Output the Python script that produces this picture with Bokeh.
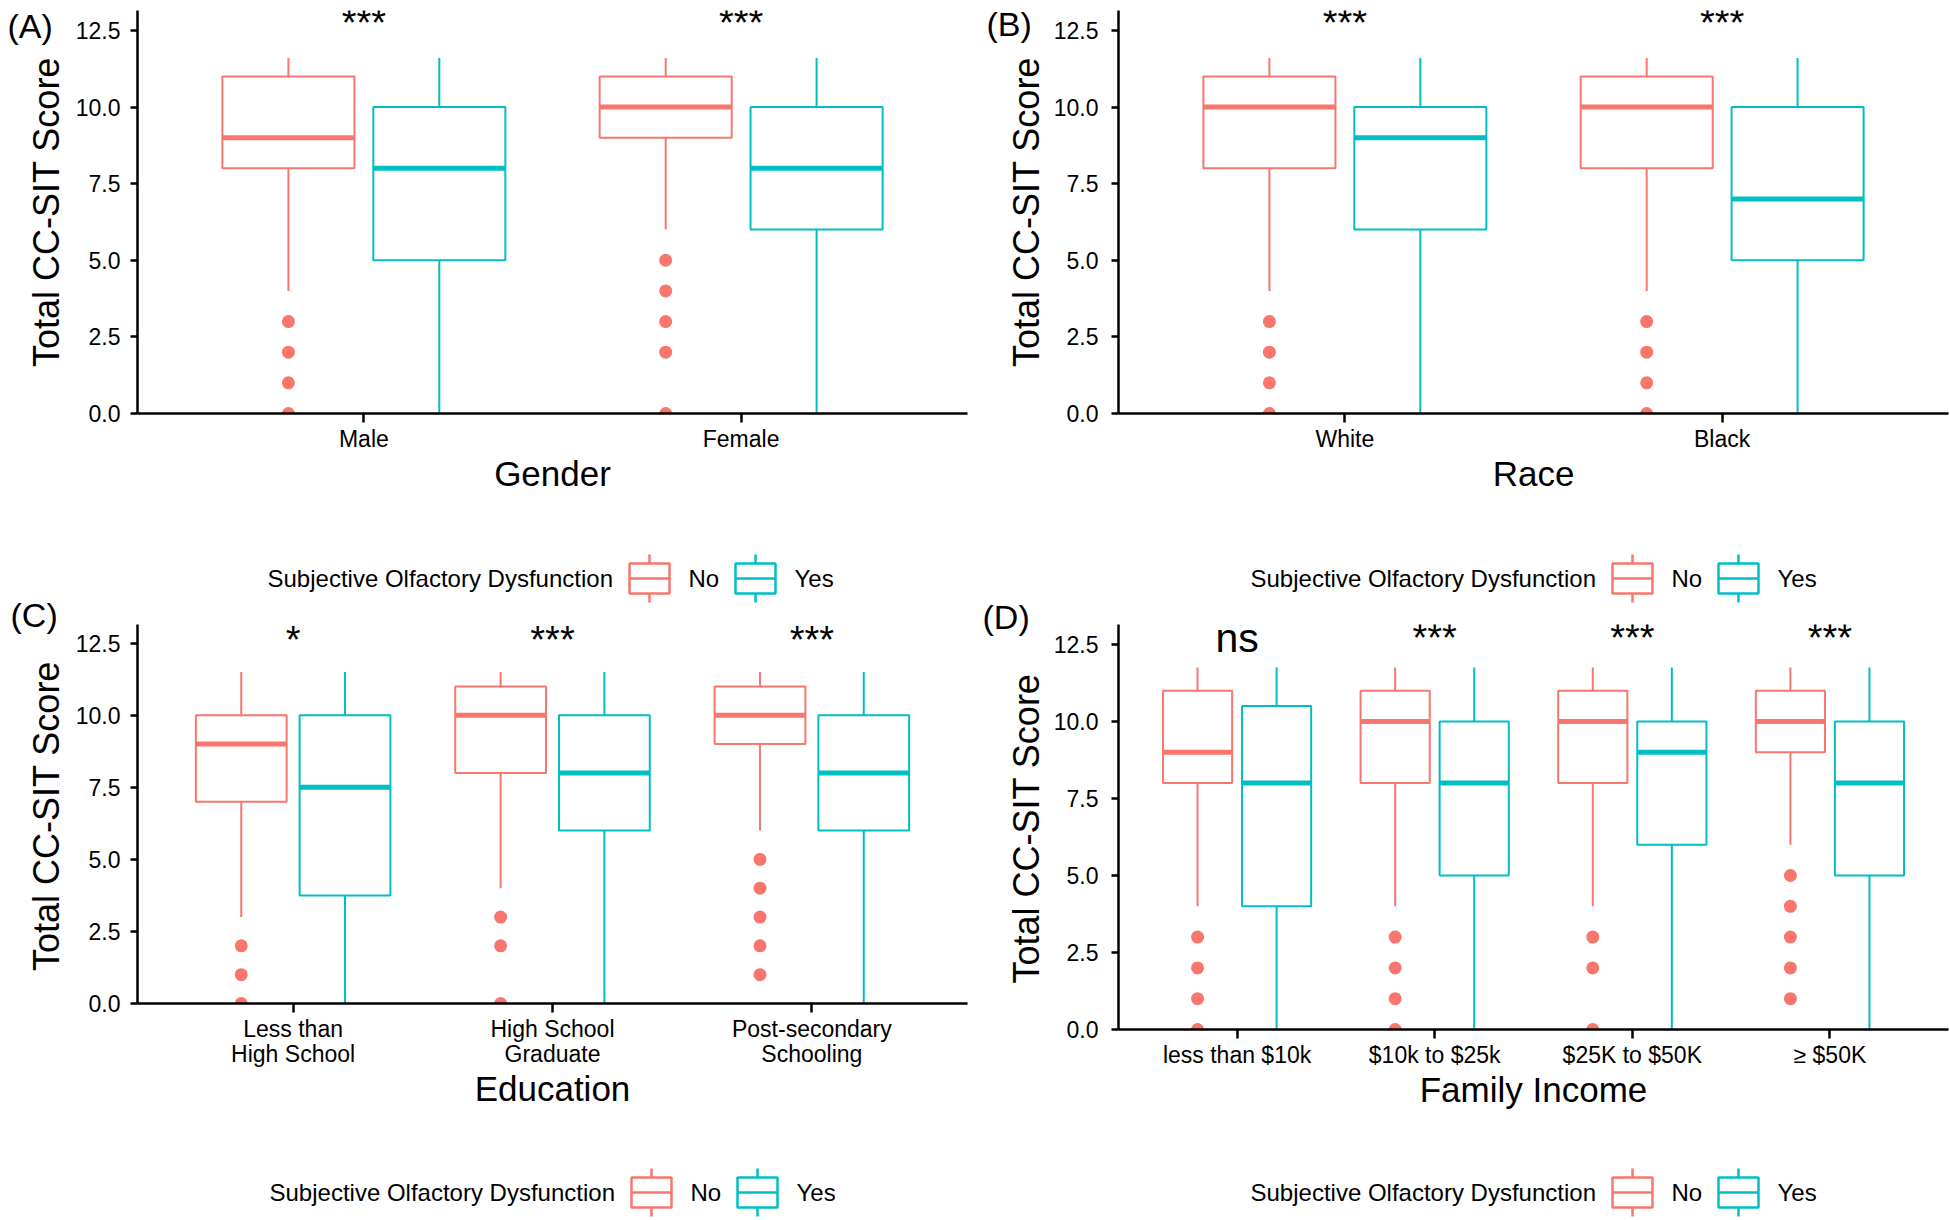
import numpy as np
from bokeh.plotting import figure
from bokeh.models import Range1d, FixedTicker, PrintfTickFormatter, ColumnDataSource, Plot
from bokeh.layouts import column, row
from bokeh.core.properties import value, field
from bokeh.embed import file_html
from bokeh.resources import INLINE

FONT = "Liberation Sans"
NO_COLOR = "#F8766D"
YES_COLOR = "#00BFC4"

Y_TICKS = [0, 2.5, 5, 7.5, 10, 12.5]
GROUPS = ["No", "Yes"]
LEGEND_TITLE = "Subjective Olfactory Dysfunction"
Y_TITLE = "Total CC-SIT Score"

# ---------------- Panel A : Gender ----------------
A_categories = ["Male", "Female"]
A_no_low = [4, 6]
A_no_q1 = [8, 9]
A_no_med = [9, 10]
A_no_q3 = [11, 11]
A_no_high = [11.6, 11.6]
A_no_outliers = [[3, 2, 1, 0], [5, 4, 3, 2, 0]]
A_yes_low = [0, 0]
A_yes_q1 = [5, 6]
A_yes_med = [8, 8]
A_yes_q3 = [10, 10]
A_yes_high = [11.6, 11.6]
A_yes_outliers = [[], []]
A_signif = ["***", "***"]

# ---------------- Panel B : Race ----------------
B_categories = ["White", "Black"]
B_no_low = [4, 4]
B_no_q1 = [8, 8]
B_no_med = [10, 10]
B_no_q3 = [11, 11]
B_no_high = [11.6, 11.6]
B_no_outliers = [[3, 2, 1, 0], [3, 2, 1, 0]]
B_yes_low = [0, 0]
B_yes_q1 = [6, 5]
B_yes_med = [9, 7]
B_yes_q3 = [10, 10]
B_yes_high = [11.6, 11.6]
B_yes_outliers = [[], []]
B_signif = ["***", "***"]

# ---------------- Panel C : Education ----------------
C_categories = ["Less than\nHigh School", "High School\nGraduate", "Post-secondary\nSchooling"]
C_no_low = [3, 4, 6]
C_no_q1 = [7, 8, 9]
C_no_med = [9, 10, 10]
C_no_q3 = [10, 11, 11]
C_no_high = [11.5, 11.5, 11.5]
C_no_outliers = [[2, 1, 0], [3, 2, 0], [5, 4, 3, 2, 1]]
C_yes_low = [0, 0, 0]
C_yes_q1 = [3.75, 6, 6]
C_yes_med = [7.5, 8, 8]
C_yes_q3 = [10, 10, 10]
C_yes_high = [11.5, 11.5, 11.5]
C_yes_outliers = [[], [], []]
C_signif = ["*", "***", "***"]

# ---------------- Panel D : Family income ----------------
D_categories = ["less than $10k", "$10k to $25k", "$25K to $50K", "\u2265 $50K"]
D_no_low = [4, 4, 4, 6]
D_no_q1 = [8, 8, 8, 9]
D_no_med = [9, 10, 10, 10]
D_no_q3 = [11, 11, 11, 11]
D_no_high = [11.75, 11.75, 11.75, 11.75]
D_no_outliers = [[3, 2, 1, 0], [3, 2, 1, 0], [3, 2, 0], [5, 4, 3, 2, 1]]
D_yes_low = [0, 0, 0, 0]
D_yes_q1 = [4, 5, 6, 5]
D_yes_med = [8, 8, 9, 8]
D_yes_q3 = [10.5, 10, 10, 10]
D_yes_high = [11.75, 11.75, 11.75, 11.75]
D_yes_outliers = [[], [], [], []]
D_signif = ["ns", "***", "***", "***"]

Y_MAX = 13.15
HAS_FA = "frame_align" in Plot.properties()


def base_fig(**kw):
    extra = {"frame_align": False} if HAS_FA else {}
    f = figure(output_backend="svg", toolbar_location=None, **extra, **kw)
    f.outline_line_color = None
    f.background_fill_color = "white"
    f.border_fill_color = "white"
    return f


def make_panel(cats, no_stats, yes_stats, no_out, yes_out, signif, xtitle,
               width, height, bl, br, bt, bb, star_y, ns_y, ylab_standoff):
    n = len(cats)
    x0, x1 = 0.4, n + 0.6
    p = base_fig(width=width, height=height, x_range=Range1d(x0, x1), y_range=Range1d(0, Y_MAX),
                 min_border_left=bl, min_border_right=br, min_border_top=bt, min_border_bottom=bb)
    p.xgrid.visible = False
    p.ygrid.visible = False

    xs = np.arange(1, n + 1, dtype=float)
    for stats, outs, color, off in ((no_stats, no_out, NO_COLOR, -0.2),
                                    (yes_stats, yes_out, YES_COLOR, 0.2)):
        low, q1, med, q3, high = stats
        x = xs + off
        src = ColumnDataSource(dict(x=x, low=low, q1=q1, med=med, q3=q3, high=high,
                                    left=x - 0.175, right=x + 0.175))
        p.segment(x0="x", y0="q3", x1="x", y1="high", source=src, line_color=color, line_width=2)
        p.segment(x0="x", y0="low", x1="x", y1="q1", source=src, line_color=color, line_width=2)
        p.vbar(x="x", width=0.35, bottom="q1", top="q3", source=src, fill_color="white",
               line_color=color, line_width=2)
        p.segment(x0="left", y0="med", x1="right", y1="med", source=src, line_color=color,
                  line_width=5)
        ox = [xx for xx, o in zip(x, outs) for _ in o]
        oy = [v for o in outs for v in o]
        if ox:
            p.scatter(ox, oy, size=13, color=color, line_color=None)

    ys = [ns_y if s == "ns" else star_y for s in signif]
    sizes = ["41px" if s == "ns" else "38px" for s in signif]
    ssrc = ColumnDataSource(dict(x=xs, y=ys, text=signif, size=sizes))
    p.text(x="x", y="y", text="text", source=ssrc, text_align="center",
           text_baseline="alphabetic", text_font=value(FONT), text_font_size=field("size"),
           text_color="black")

    p.xaxis.ticker = FixedTicker(ticks=list(xs))
    p.xaxis.major_label_overrides = {float(i + 1): c for i, c in enumerate(cats)}
    p.yaxis.ticker = FixedTicker(ticks=Y_TICKS)
    p.yaxis.formatter = PrintfTickFormatter(format="%.1f")
    for ax in (p.xaxis, p.yaxis):
        ax.axis_line_color = "black"
        ax.axis_line_width = 2.5
        ax.major_tick_line_color = "black"
        ax.major_tick_line_width = 2.5
        ax.major_tick_in = 0
        ax.minor_tick_line_color = None
        ax.major_label_text_font = FONT
        ax.major_label_text_font_size = "23px"
        ax.major_label_text_color = "black"
        ax.axis_label_text_font = FONT
        ax.axis_label_text_font_style = "normal"
        ax.axis_label_text_color = "black"
    p.xaxis.major_tick_out = 9
    p.yaxis.major_tick_out = 7
    p.xaxis.major_label_standoff = 3
    p.yaxis.major_label_standoff = ylab_standoff
    p.xaxis.major_label_text_line_height = 0.98
    p.xaxis.axis_label = xtitle
    p.xaxis.axis_label_text_font_size = "35px"
    p.xaxis.axis_label_standoff = -1
    return p


def make_strip(width, height, letter, letter_x, letter_y, title_x, title_y):
    f = base_fig(width=width, height=height, x_range=Range1d(0, width), y_range=Range1d(0, height),
                 min_border=0, x_axis_location=None, y_axis_location=None)
    f.xgrid.visible = False
    f.ygrid.visible = False
    f.text(x=[letter_x], y=[letter_y], text=[letter], text_align="left",
           text_baseline="alphabetic", text_font=value(FONT), text_font_size="34px",
           text_color="black")
    f.text(x=[title_x], y=[title_y], text=[Y_TITLE], angle=np.pi / 2, text_align="center",
           text_baseline="alphabetic", text_font=value(FONT), text_font_size="36px",
           text_color="black")
    return f


def make_legend(width, height, bl, br, title_x, cy):
    f = base_fig(width=width, height=height, x_range=Range1d(bl, width - br),
                 y_range=Range1d(0, height), min_border_left=bl, min_border_right=br,
                 min_border_top=0, min_border_bottom=0,
                 x_axis_location=None, y_axis_location=None)
    f.xgrid.visible = False
    f.ygrid.visible = False
    f.text(x=[title_x], y=[cy], text=[LEGEND_TITLE], text_baseline="middle", text_align="left",
           text_font=value(FONT), text_font_size="24px", text_color="black")
    for i, (g, color) in enumerate(zip(GROUPS, (NO_COLOR, YES_COLOR))):
        kx = title_x + 362 + i * 106
        f.quad(left=[kx], right=[kx + 40], bottom=[cy - 15], top=[cy + 15], fill_color="white",
               line_color=color, line_width=2.5)
        f.segment(x0=[kx + 20, kx + 20], y0=[cy + 15, cy - 15], x1=[kx + 20, kx + 20],
                  y1=[cy + 24, cy - 24], line_color=color, line_width=2.5)
        f.segment(x0=[kx], y0=[cy], x1=[kx + 40], y1=[cy], line_color=color, line_width=2.5)
        f.text(x=[kx + 59], y=[cy], text=[g], text_baseline="middle", text_align="left",
               text_font=value(FONT), text_font_size="24px", text_color="black")
    return f


pA = make_panel(A_categories,
                (A_no_low, A_no_q1, A_no_med, A_no_q3, A_no_high),
                (A_yes_low, A_yes_q1, A_yes_med, A_yes_q3, A_yes_high),
                A_no_outliers, A_yes_outliers, A_signif, "Gender",
                903, 510, 63, 8, 10, 97, 12.73, 12.73, 10)
pB = make_panel(B_categories,
                (B_no_low, B_no_q1, B_no_med, B_no_q3, B_no_high),
                (B_yes_low, B_yes_q1, B_yes_med, B_yes_q3, B_yes_high),
                B_no_outliers, B_yes_outliers, B_signif, "Race",
                900, 510, 67, 2, 10, 97, 12.73, 12.73, 13)
pC = make_panel(C_categories,
                (C_no_low, C_no_q1, C_no_med, C_no_q3, C_no_high),
                (C_yes_low, C_yes_q1, C_yes_med, C_yes_q3, C_yes_high),
                C_no_outliers, C_yes_outliers, C_signif, "Education",
                903, 521, 63, 8, 20, 122, 12.62, 12.62, 10)
pD = make_panel(D_categories,
                (D_no_low, D_no_q1, D_no_med, D_no_q3, D_no_high),
                (D_yes_low, D_yes_q1, D_yes_med, D_yes_q3, D_yes_high),
                D_no_outliers, D_yes_outliers, D_signif, "Family Income",
                900, 521, 67, 2, 20, 96, 12.72, 12.7, 13)

lA = make_legend(903, 94, 63, 8, 195, 26)
lB = make_legend(900, 94, 67, 2, 200, 26)
lC = make_legend(903, 95, 63, 8, 197, 28)
lD = make_legend(900, 95, 67, 2, 200, 28)

sA = make_strip(72, 590, "(A)", 7, 565, 46, 378.5)
sC = make_strip(72, 630, "(C)", 10, 605.5, 46, 404.5)
sB = make_strip(75, 590, "(B)", 11, 566.5, 50.5, 378.5)
sD = make_strip(75, 630, "(D)", 7, 604, 51, 392)

layout = row(column(sA, sC), column(pA, lA, pC, lC),
             column(sB, sD), column(pB, lB, pD, lD))

open("out.html", "w").write(file_html(layout, INLINE))
